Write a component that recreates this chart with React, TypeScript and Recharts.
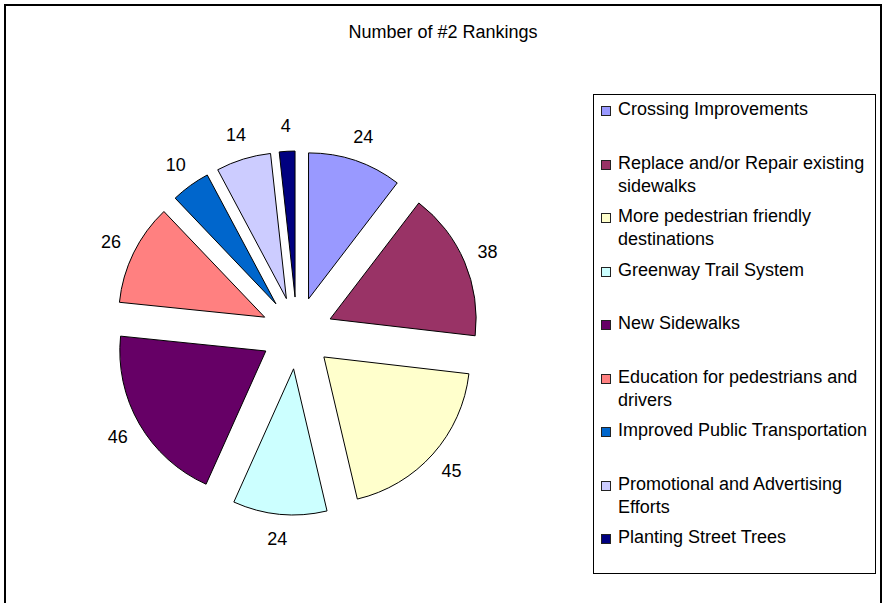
import React from "react";
import { PieChart, Pie, Cell, Sector, Legend } from "recharts";

const categories = [
  "Crossing Improvements",
  "Replace and/or Repair existing sidewalks",
  "More pedestrian friendly destinations",
  "Greenway Trail System",
  "New Sidewalks",
  "Education for pedestrians and drivers",
  "Improved Public Transportation",
  "Promotional and Advertising Efforts",
  "Planting Street Trees",
];
const values = [24, 38, 45, 24, 46, 26, 10, 14, 4];
const colors = [
  "#9999FF",
  "#993366",
  "#FFFFCC",
  "#CCFFFF",
  "#660066",
  "#FF8080",
  "#0066CC",
  "#CCCCFF",
  "#000080",
];
const title = "Number of #2 Rankings";

const data = categories.map((name, i) => ({ name, value: values[i] }));

const EXPLODE = 36;
const RAD = Math.PI / 180;
const FONT = "'Liberation Sans', Arial, sans-serif";

const ExplodedSector = (props: any) => {
  const { cx, cy, midAngle } = props;
  const dx = EXPLODE * Math.cos(midAngle * RAD);
  const dy = -EXPLODE * Math.sin(midAngle * RAD);
  return (
    <Sector
      cx={cx + dx}
      cy={cy + dy}
      innerRadius={0}
      outerRadius={props.outerRadius}
      startAngle={props.startAngle}
      endAngle={props.endAngle}
      fill={props.fill}
      stroke="#000"
      strokeWidth={1}
    />
  );
};

const renderLabel = (props: any) => {
  const { cx, cy, midAngle, outerRadius, value } = props;
  const r = EXPLODE + outerRadius + 25;
  const x = cx + r * Math.cos(midAngle * RAD);
  const y = cy - r * Math.sin(midAngle * RAD);
  return (
    <text
      x={x}
      y={y}
      textAnchor="middle"
      dominantBaseline="central"
      fontFamily={FONT}
      fontSize={18}
      fill="#000"
    >
      {value}
    </text>
  );
};

const LegendContent = () => {
  return (
    <div
      style={{
        border: "1px solid #000",
        width: 283,
        height: 480,
        boxSizing: "border-box",
        paddingTop: 3,
        background: "#fff",
        fontFamily: FONT,
        fontSize: 18,
        color: "#000",
      }}
    >
      {categories.map((name, i) => (
        <div
          key={name}
          style={{ height: 53.5, display: "flex", alignItems: "flex-start", lineHeight: "23px" }}
        >
          <div
            style={{
              width: 8,
              height: 8,
              marginLeft: 7,
              marginTop: 8,
              marginRight: 7,
              border: "1px solid #222",
              background: colors[i],
              flex: "none",
            }}
          />
          <div style={{ whiteSpace: "normal" }}>{name}</div>
        </div>
      ))}
    </div>
  );
};

export default function App() {
  return (
    <div style={{ position: "absolute", left: 0, top: 0, width: 886, height: 603, background: "#fff", overflow: "hidden" }}>
      <div
        style={{
          position: "absolute",
          left: 4,
          top: 4,
          width: 878,
          height: 640,
          border: "2px solid #000",
          boxSizing: "border-box",
        }}
      />
      <div
        style={{
          position: "absolute",
          left: 0,
          top: 22,
          width: 886,
          textAlign: "center",
          fontFamily: FONT,
          fontSize: 18,
          color: "#000",
        }}
      >
        {title}
      </div>
      <div style={{ position: "absolute", left: 0, top: 0 }}>
        <PieChart width={886} height={603} margin={{ top: 0, right: 0, bottom: 0, left: 0 }}>
          <Pie
            data={data}
            dataKey="value"
            nameKey="name"
            cx={297}
            cy={333}
            outerRadius={146}
            startAngle={90}
            endAngle={-270}
            isAnimationActive={false}
            labelLine={false}
            label={renderLabel}
            shape={ExplodedSector}
            activeShape={ExplodedSector}
            inactiveShape={ExplodedSector}
          >
            {data.map((d, i) => (
              <Cell key={d.name} fill={colors[i]} stroke="#000" />
            ))}
          </Pie>
          <Legend
            layout="vertical"
            content={<LegendContent />}
            wrapperStyle={{ position: "absolute", left: 593, top: 94, width: 283, height: 480 }}
          />
        </PieChart>
      </div>
    </div>
  );
}
